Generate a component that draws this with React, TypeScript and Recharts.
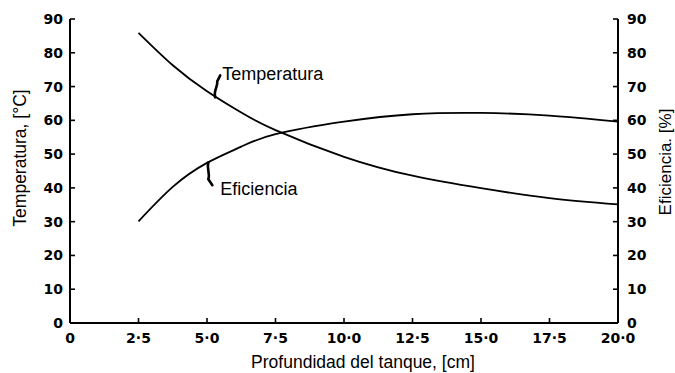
import React from "react";
import { LineChart, Line, XAxis, YAxis, ReferenceDot, Label } from "recharts";

const depth = [2.5, 3.75, 5, 6.25, 7.5, 10, 12.5, 15, 17.5, 20];
const temperatura = [85.9, 76.3, 68.6, 62.3, 57.1, 49.2, 43.6, 39.9, 37, 35.1];
const eficiencia = [30.1, 40.3, 47.4, 52.2, 55.9, 59.6, 61.8, 62.2, 61.4, 59.6];

const xTicks = [0, 2.5, 5, 7.5, 10, 12.5, 15, 17.5, 20];
const xTickLabels = ["0", "2·5", "5·0", "7·5", "10·0", "12·5", "15·0", "17·5", "20·0"];
const yTicks = [0, 10, 20, 30, 40, 50, 60, 70, 80, 90];

const data = depth.map((d, i) => ({
  depth: d,
  temperatura: temperatura[i],
  eficiencia: eficiencia[i],
}));

const TEXT_FONT = "'Liberation Sans', Arial, sans-serif";
const TICK_FONT = "'DejaVu Sans', sans-serif";
const GAP = 7;
const TICK_LEN = 5;

function LeftTick({ x, y, payload }: any) {
  return (
    <g>
      <line x1={x + GAP} x2={x + GAP + TICK_LEN} y1={y} y2={y} stroke="#000" strokeWidth={1.6} />
      <text x={x} y={y} dy="0.36em" textAnchor="end" fontFamily={TICK_FONT} fontWeight={700} fontSize={14} fill="#000">
        {payload.value}
      </text>
    </g>
  );
}

function RightTick({ x, y, payload }: any) {
  return (
    <g>
      <line x1={x - GAP} x2={x - GAP - TICK_LEN} y1={y} y2={y} stroke="#000" strokeWidth={1.6} />
      <text x={x + 2} y={y} dy="0.36em" textAnchor="start" fontFamily={TICK_FONT} fontWeight={700} fontSize={14} fill="#000">
        {payload.value}
      </text>
    </g>
  );
}

function BottomTick({ x, y, payload }: any) {
  const idx = xTicks.indexOf(payload.value);
  return (
    <g>
      <line x1={x} x2={x} y1={y - GAP} y2={y - GAP - TICK_LEN} stroke="#000" strokeWidth={1.6} />
      <text x={x} y={y} dy="0.95em" textAnchor="middle" fontFamily={TICK_FONT} fontWeight={700} fontSize={14} fill="#000">
        {xTickLabels[idx]}
      </text>
    </g>
  );
}

// curve callouts: small hooked arrow from the name to the line
function TempCallout({ cx, cy }: any) {
  return (
    <g>
      <path
        d={`M${cx},${cy} C${cx - 2},${cy - 7} ${cx + 3},${cy - 11} ${cx + 2},${cy - 16} L${cx + 5},${cy - 22}`}
        fill="none"
        stroke="#000"
        strokeWidth={2.6}
        strokeLinecap="round"
      />
      <text x={cx + 7} y={cy - 17} fontFamily={TEXT_FONT} fontSize={18} fill="#000">
        Temperatura
      </text>
    </g>
  );
}

function EffCallout({ cx, cy }: any) {
  return (
    <g>
      <path
        d={`M${cx},${cy} C${cx - 2},${cy + 6} ${cx + 2},${cy + 11} ${cx},${cy + 17} L${cx + 4},${cy + 23}`}
        fill="none"
        stroke="#000"
        strokeWidth={2.6}
        strokeLinecap="round"
      />
      <text x={cx + 12} y={cy + 33} fontFamily={TEXT_FONT} fontSize={18} fill="#000">
        Eficiencia
      </text>
    </g>
  );
}

export default function App() {
  return (
    <div style={{ position: "absolute", left: 0, top: 0, background: "#fff" }}>
      <LineChart width={675} height={373} data={data} margin={{ top: 19, right: 0, bottom: 0, left: 0 }}>
        <XAxis
          dataKey="depth"
          type="number"
          domain={[0, 20]}
          ticks={xTicks}
          height={50}
          tickSize={0}
          tickMargin={GAP}
          tickLine={false}
          tick={<BottomTick />}
          axisLine={{ stroke: "#000", strokeWidth: 2 }}
          interval={0}
        >
          <Label
            content={({ viewBox }: any) => (
              <text
                x={viewBox.x + viewBox.width / 2 + 19}
                y={viewBox.y + 45}
                textAnchor="middle"
                fontFamily={TEXT_FONT}
                fontSize={17.5}
                fill="#000"
              >
                Profundidad del tanque, [cm]
              </text>
            )}
          />
        </XAxis>
        <YAxis
          yAxisId="left"
          domain={[0, 90]}
          ticks={yTicks}
          width={70}
          tickSize={0}
          tickMargin={GAP}
          tickLine={false}
          tick={<LeftTick />}
          axisLine={{ stroke: "#000", strokeWidth: 2 }}
          interval={0}
        >
          <Label
            content={({ viewBox }: any) => {
              const cx = viewBox.x + 20;
              const cy = viewBox.y + viewBox.height / 2 - 13;
              return (
                <text
                  x={cx}
                  y={cy}
                  transform={`rotate(-90 ${cx} ${cy})`}
                  textAnchor="middle"
                  dominantBaseline="central"
                  fontFamily={TEXT_FONT}
                  fontSize={17.5}
                  fill="#000"
                >
                  Temperatura, [°C]
                </text>
              );
            }}
          />
        </YAxis>
        <YAxis
          yAxisId="right"
          orientation="right"
          domain={[0, 90]}
          ticks={yTicks}
          width={57}
          tickSize={0}
          tickMargin={GAP}
          tickLine={false}
          tick={<RightTick />}
          axisLine={{ stroke: "#000", strokeWidth: 2 }}
          interval={0}
        >
          <Label
            content={({ viewBox }: any) => {
              const cx = viewBox.x + 47;
              const cy = viewBox.y + viewBox.height / 2 - 9;
              return (
                <text
                  x={cx}
                  y={cy}
                  transform={`rotate(-90 ${cx} ${cy})`}
                  textAnchor="middle"
                  dominantBaseline="central"
                  fontFamily={TEXT_FONT}
                  fontSize={17}
                  fill="#000"
                >
                  Eficiencia. [%]
                </text>
              );
            }}
          />
        </YAxis>
        <Line
          yAxisId="left"
          type="natural"
          dataKey="temperatura"
          stroke="#000"
          strokeWidth={1.8}
          dot={false}
          activeDot={false}
          isAnimationActive={false}
        />
        <Line
          yAxisId="right"
          type="natural"
          dataKey="eficiencia"
          stroke="#000"
          strokeWidth={1.8}
          dot={false}
          activeDot={false}
          isAnimationActive={false}
        />
        <ReferenceDot yAxisId="left" x={5.3} y={66.8} shape={<TempCallout />} />
        <ReferenceDot yAxisId="right" x={5.05} y={47.6} shape={<EffCallout />} />
      </LineChart>
    </div>
  );
}
